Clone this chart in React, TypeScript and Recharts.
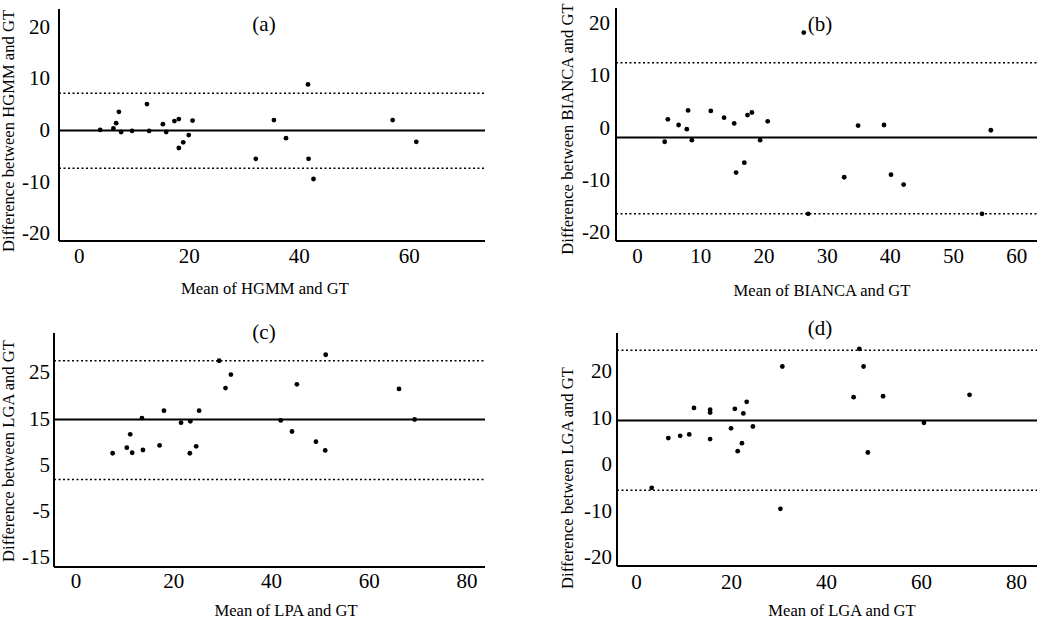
import React from "react";
import { ScatterChart, Scatter, XAxis, YAxis, ReferenceLine } from "recharts";

const FONT = '"Liberation Serif", "Times New Roman", serif';

// (a) HGMM vs GT
const hgmmMean = [3.8, 6.2, 6.7, 7.2, 7.6, 9.6, 12.3, 12.7, 15.2, 15.8, 17.3, 18.1, 18.1, 18.9, 19.9, 20.6, 32.1, 35.4, 37.6, 41.6, 41.7, 42.6, 57.0, 61.3];
const hgmmDiff = [-0.1, 0.2, 1.2, 3.4, -0.5, -0.3, 4.9, -0.3, 1.0, -0.5, 1.6, 2.0, -3.6, -2.5, -1.1, 1.7, -5.7, 1.8, -1.7, 8.7, -5.7, -9.6, 1.8, -2.4];
const hgmmLines = [-0.2, 7.0, -7.5]; // bias, upper, lower

// (b) BIANCA vs GT
const biancaMean = [4.3, 4.8, 6.5, 7.8, 8.0, 8.6, 11.6, 13.7, 15.3, 15.6, 16.9, 17.4, 18.1, 19.4, 20.6, 26.3, 27.0, 32.7, 34.9, 39.0, 40.1, 42.1, 54.5, 55.9];
const biancaDiff = [-2.8, 1.5, 0.4, -0.4, 3.2, -2.5, 3.1, 1.8, 0.7, -8.7, -6.8, 2.3, 2.8, -2.5, 1.1, 18.1, -16.6, -9.6, 0.3, 0.4, -9.1, -11.0, -16.6, -0.6];
const biancaLines = [-2.0, 12.3, -16.6];

// (c) LPA vs GT
const lpaMean = [7.5, 10.4, 11.1, 11.5, 13.5, 13.7, 17.1, 18.0, 21.5, 23.4, 23.3, 24.6, 25.2, 29.3, 30.6, 31.7, 41.9, 44.2, 45.2, 49.1, 51.0, 51.1, 66.1, 69.3];
const lpaDiff = [7.4, 8.6, 11.5, 7.5, 15.0, 8.1, 9.1, 16.6, 14.0, 14.3, 7.4, 8.9, 16.6, 27.4, 21.5, 24.4, 14.5, 12.1, 22.3, 9.9, 8.0, 28.7, 21.3, 14.7];
const lpaLines = [14.7, 27.4, 1.7];

// (d) LGA vs GT
const lgaMean = [3.2, 6.7, 9.2, 11.1, 12.1, 15.5, 15.5, 15.5, 19.9, 20.7, 21.3, 22.2, 22.5, 23.2, 24.5, 30.3, 30.7, 45.7, 46.9, 47.8, 48.7, 51.9, 60.5, 70.1];
const lgaDiff = [-5.2, 5.5, 6.0, 6.3, 12.0, 11.6, 11.0, 5.3, 7.6, 11.8, 2.7, 4.4, 10.8, 13.3, 8.0, -9.7, 20.9, 14.3, 24.7, 20.9, 2.4, 14.5, 8.8, 14.8];
const lgaLines = [9.3, 24.4, -5.7];

const dot = (p: any) => <circle cx={p.cx} cy={p.cy} r={2.4} fill="#000" />;

type PanelProps = {
  box: [number, number, number, number]; // plot left, right, top, bottom
  xDomain: [number, number];
  xTicks: number[];
  yDomain: [number, number];
  yTicks: number[];
  xs: number[];
  ys: number[];
  lines: number[];
  yGap: number;
  xGap: number;
};

function Panel({ box, xDomain, xTicks, yDomain, yTicks, xs, ys, lines, yGap, xGap }: PanelProps) {
  const [x0, x1, y0, y1] = box;
  const left = x0 - 50;
  const top = y0 - 10;
  const width = x1 - left + 5;
  const height = y1 - top + 35;
  const data = xs.map((x, i) => ({ x, y: ys[i] }));
  const tick = { fontSize: 21, fill: "#000", fontFamily: FONT };
  return (
    <div style={{ position: "absolute", left, top }}>
      <ScatterChart width={width} height={height} margin={{ top: 10, right: 5, bottom: 5, left: 0 }}>
        <XAxis
          type="number"
          dataKey="x"
          domain={xDomain}
          ticks={xTicks}
          allowDataOverflow
          height={30}
          tickLine={false}
          tickSize={0}
          tickMargin={xGap}
          tick={tick}
          axisLine={{ stroke: "#000", strokeWidth: 2 }}
        />
        <YAxis
          type="number"
          dataKey="y"
          domain={yDomain}
          ticks={yTicks}
          allowDataOverflow
          width={50}
          tickLine={false}
          tickSize={0}
          tickMargin={yGap}
          tick={tick}
          axisLine={{ stroke: "#000", strokeWidth: 2 }}
        />
        <ReferenceLine y={lines[1]} stroke="#000" strokeWidth={1.5} strokeDasharray="2 2.5" />
        <ReferenceLine y={lines[2]} stroke="#000" strokeWidth={1.5} strokeDasharray="2 2.5" />
        <ReferenceLine y={lines[0]} stroke="#000" strokeWidth={2} />
        <Scatter data={data} shape={dot} isAnimationActive={false} />
      </ScatterChart>
    </div>
  );
}

function Caption({ x, y, size, rotate, children }: { x: number; y: number; size: number; rotate?: boolean; children: React.ReactNode }) {
  return (
    <div
      style={{
        position: "absolute",
        left: x,
        top: y,
        transform: `translate(-50%, -50%)${rotate ? " rotate(-90deg)" : ""}`,
        fontSize: size,
        lineHeight: 1,
        whiteSpace: "nowrap",
        color: "#000",
      }}
    >
      {children}
    </div>
  );
}

export default function App() {
  return (
    <div style={{ position: "absolute", left: 0, top: 0, width: 1050, height: 621, background: "#fff", fontFamily: FONT }}>
      <Panel
        box={[59, 485, 9, 241]}
        xDomain={[-3.7, 73.8]}
        xTicks={[0, 20, 40, 60]}
        yDomain={[-21.6, 23.3]}
        yTicks={[-20, -10, 0, 10, 20]}
        xs={hgmmMean}
        ys={hgmmDiff}
        lines={hgmmLines}
        yGap={9}
        xGap={7}
      />
      <Panel
        box={[616, 1037, 8, 241]}
        xDomain={[-3.4, 63.2]}
        xTicks={[0, 10, 20, 30, 40, 50, 60]}
        yDomain={[-21.8, 22.8]}
        yTicks={[-20, -10, 0, 10, 20]}
        xs={biancaMean}
        ys={biancaDiff}
        lines={biancaLines}
        yGap={6}
        xGap={7}
      />
      <Panel
        box={[54, 485, 333, 567]}
        xDomain={[-4.5, 83.7]}
        xTicks={[0, 20, 40, 60, 80]}
        yDomain={[-17.2, 33.4]}
        yTicks={[-15, -5, 5, 15, 25]}
        xs={lpaMean}
        ys={lpaDiff}
        lines={lpaLines}
        yGap={4}
        xGap={6}
      />
      <Panel
        box={[617, 1037, 333, 566]}
        xDomain={[-4.1, 84.3]}
        xTicks={[0, 20, 40, 60, 80]}
        yDomain={[-22.0, 28.1]}
        yTicks={[-20, -10, 0, 10, 20]}
        xs={lgaMean}
        ys={lgaDiff}
        lines={lgaLines}
        yGap={5}
        xGap={8}
      />

      <Caption x={264} y={24} size={21}>(a)</Caption>
      <Caption x={820} y={24} size={21}>(b)</Caption>
      <Caption x={264} y={332} size={21}>(c)</Caption>
      <Caption x={820} y={328} size={21}>(d)</Caption>

      <Caption x={265} y={289} size={16.6}>Mean of HGMM and GT</Caption>
      <Caption x={822} y={291} size={16.6}>Mean of BIANCA and GT</Caption>
      <Caption x={286} y={611} size={16.6}>Mean of LPA and GT</Caption>
      <Caption x={842} y={611} size={16.6}>Mean of LGA and GT</Caption>

      <Caption x={9} y={131} size={16.6} rotate>Difference between HGMM and GT</Caption>
      <Caption x={568} y={129} size={16.6} rotate>Difference between BIANCA and GT</Caption>
      <Caption x={9} y={451} size={16.6} rotate>Difference between LGA and GT</Caption>
      <Caption x={568} y={478} size={16.6} rotate>Difference between LGA and GT</Caption>
    </div>
  );
}
